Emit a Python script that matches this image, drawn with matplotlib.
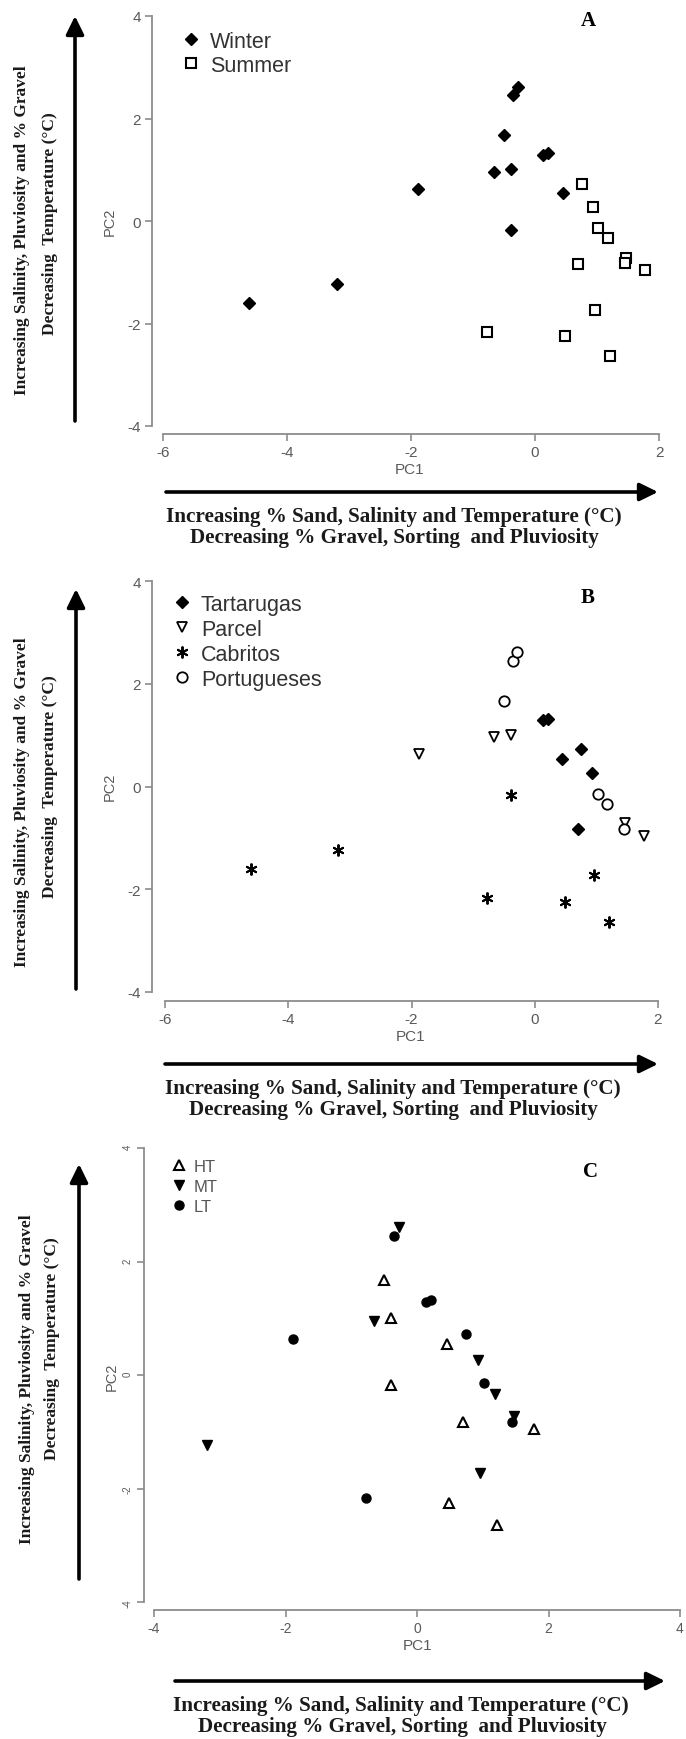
import numpy as np
import matplotlib.pyplot as plt

plt.rcParams['font.family'] = ['Liberation Sans', 'DejaVu Sans']
plt.rcParams['axes.unicode_minus'] = False

W, H = 686, 1740
DPI = 100

# PCA scores of the 24 samples
pc1 = [-4.61, -3.20, -1.88, -0.66, -0.39, -0.50, -0.35, -0.28, -0.39, 0.13, 0.21, 0.45,
       0.75, 0.93, 1.02, 1.18, 0.70, 1.47, 1.45, 1.78, 0.96, -0.77, 0.49, 1.21]
pc2 = [-1.60, -1.23, 0.63, 0.96, 1.01, 1.67, 2.45, 2.61, -0.17, 1.29, 1.32, 0.54,
       0.73, 0.27, -0.14, -0.34, -0.83, -0.72, -0.82, -0.96, -1.73, -2.17, -2.25, -2.64]
season = ['Winter'] * 12 + ['Summer'] * 12
site = ['Cabritos', 'Cabritos', 'Parcel', 'Parcel', 'Parcel', 'Portugueses',
        'Portugueses', 'Portugueses', 'Cabritos', 'Tartarugas', 'Tartarugas', 'Tartarugas',
        'Tartarugas', 'Tartarugas', 'Portugueses', 'Portugueses', 'Tartarugas', 'Parcel',
        'Portugueses', 'Parcel', 'Cabritos', 'Cabritos', 'Cabritos', 'Cabritos']
tide = ['MT', 'MT', 'LT', 'MT', 'HT', 'HT', 'LT', 'MT', 'HT', 'LT', 'LT', 'HT',
        'LT', 'MT', 'LT', 'MT', 'HT', 'MT', 'LT', 'HT', 'MT', 'LT', 'HT', 'HT']

seasons = ['Winter', 'Summer']
sites = ['Tartarugas', 'Parcel', 'Cabritos', 'Portugueses']
tides = ['HT', 'MT', 'LT']

styles = {
    'Winter': dict(marker='D', ms=5.8, mfc='black', mec='black'),
    'Summer': dict(marker='s', ms=6.8, mfc='white', mec='black', mew=1.5),
    'Tartarugas': dict(marker='D', ms=5.8, mfc='black', mec='black'),
    'Parcel': dict(marker='v', ms=7.5, mfc='white', mec='black', mew=1.3),
    'Cabritos': dict(marker=(6, 2, 0), ms=8.5, mec='black', mew=1.4),
    'Portugueses': dict(marker='o', ms=7.5, mfc='white', mec='black', mew=1.3),
    'HT': dict(marker='^', ms=7.5, mfc='white', mec='black', mew=1.5),
    'MT': dict(marker='v', ms=7.5, mfc='black', mec='black'),
    'LT': dict(marker='o', ms=6.5, mfc='black', mec='black'),
}

x = np.array(pc1)
y = np.array(pc2)

fig = plt.figure(figsize=(W / DPI, H / DPI), dpi=DPI)


def fx(px):
    return px / W


def fy(py):
    return 1 - py / H


def make_axes(x0, x1, y0, y1):
    # pixel box (top-left origin) -> figure fraction
    return fig.add_axes([fx(x0), fy(y1), (x1 - x0) / W, (y1 - y0) / H])


def style_axes(ax, xt, yt, left_out, bottom_out):
    for s in ['top', 'right']:
        ax.spines[s].set_visible(False)
    ax.spines['left'].set_position(('outward', left_out * 0.72))
    ax.spines['bottom'].set_position(('outward', bottom_out * 0.72))
    for s in ['left', 'bottom']:
        ax.spines[s].set_color('#8c8c8c')
        ax.spines[s].set_linewidth(1.3)
    ax.set_xlim(xt[0], xt[-1])
    ax.set_ylim(yt[0], yt[-1])
    ax.set_xticks(xt)
    ax.set_yticks(yt)
    ax.tick_params(color='#8c8c8c', labelcolor='#5a5a5a', length=5, width=1.2,
                   labelsize=11, pad=3)
    ax.patch.set_alpha(0)


def scatter_groups(ax, labels, groups):
    lab = np.array(labels)
    for g in groups:
        m = lab == g
        ax.plot(x[m], y[m], ls='none', label=g, **styles[g])


def add_legend(ax, left, top, fsize, spacing, color):
    leg = ax.legend(loc='upper left', bbox_to_anchor=(fx(left), fy(top)),
                    bbox_transform=fig.transFigure, frameon=False, borderpad=0,
                    borderaxespad=0, handlelength=0.8, handletextpad=0.5,
                    labelspacing=spacing, prop={'size': fsize})
    for t in leg.get_texts():
        t.set_color(color)


def labels_and_arrows(ax, pc1_xy, pc2_xy, vtext, htext, varrow, harrow, letter):
    ax.set_xlabel('PC1', fontsize=11, color='#5a5a5a')
    ax.set_ylabel('PC2', fontsize=10.5, color='#5a5a5a')
    bb = ax.get_position()
    ax.xaxis.set_label_coords((fx(pc1_xy[0]) - bb.x0) / bb.width,
                              (fy(pc1_xy[1]) - bb.y0) / bb.height)
    ax.xaxis.label.set_va('center')
    ax.yaxis.set_label_coords((fx(pc2_xy[0]) - bb.x0) / bb.width,
                              (fy(pc2_xy[1]) - bb.y0) / bb.height)
    ax.yaxis.label.set_va('center')
    (vx1, vy1), (vx2, vy2) = vtext
    fig.text(fx(vx1), fy(vy1), 'Increasing Salinity, Pluviosity and % Gravel',
             rotation=90, ha='center', va='center', family='Liberation Serif',
             weight='bold', fontsize=12.5, color='#1a1a1a')
    fig.text(fx(vx2), fy(vy2), 'Decreasing  Temperature (°C)',
             rotation=90, ha='center', va='center', family='Liberation Serif',
             weight='bold', fontsize=12.5, color='#1a1a1a')
    (hx1, hy1), (hx2, hy2) = htext
    fig.text(fx(hx1), fy(hy1), 'Increasing % Sand, Salinity and Temperature (°C)',
             ha='center', va='center', family='Liberation Serif',
             weight='bold', fontsize=15.2, color='#1a1a1a')
    fig.text(fx(hx2), fy(hy2), 'Decreasing % Gravel, Sorting  and Pluviosity',
             ha='center', va='center', family='Liberation Serif',
             weight='bold', fontsize=15.2, color='#1a1a1a')
    aprops = dict(arrowstyle='-|>,head_length=0.55,head_width=0.27', lw=2.6,
                  color='black', mutation_scale=20, shrinkA=0, shrinkB=0)
    ax_, y_bot, y_top = varrow
    fig.add_artist(plt.Annotation('', xy=(ax_, H - y_top), xytext=(ax_, H - y_bot),
                                  xycoords='figure pixels', textcoords='figure pixels',
                                  arrowprops=aprops))
    ay_, x_l, x_r = harrow
    fig.add_artist(plt.Annotation('', xy=(x_r, H - ay_), xytext=(x_l, H - ay_),
                                  xycoords='figure pixels', textcoords='figure pixels',
                                  arrowprops=aprops))
    lx, ly, ltxt = letter
    fig.text(fx(lx), fy(ly), ltxt, ha='center', va='center', family='Liberation Serif',
             weight='bold', fontsize=15, color='black')


# Panel A: season
axA = make_axes(163, 659, 17, 427)
style_axes(axA, [-6, -4, -2, 0, 2], [-4, -2, 0, 2, 4], 11, 8)
scatter_groups(axA, season, seasons)
add_legend(axA, 182, 32, 15.5, 0.13, '#333333')
labels_and_arrows(axA, (410, 470), (110, 222), ((22, 230), (50, 224)),
                  ((394, 517), (394, 538)), (75, 422, 17), (493, 166, 658),
                  (588, 21, 'A'))

# Panel B: site
axB = make_axes(165, 658, 582, 993)
style_axes(axB, [-6, -4, -2, 0, 2], [-4, -2, 0, 2, 4], 13, 9)
scatter_groups(axB, site, sites)
add_legend(axB, 173, 595, 15.5, 0.18, '#333333')
labels_and_arrows(axB, (411, 1037), (110, 787), ((22, 802), (50, 787)),
                  ((393, 1089), (393, 1110)), (76, 990, 590), (1065, 165, 658),
                  (588, 598, 'B'))

# Panel C: tidal level
axC = make_axes(154, 680, 1149, 1603)
style_axes(axC, [-4, -2, 0, 2, 4], [-4, -2, 0, 2, 4], 10, 8)
axC.tick_params(axis='y', labelsize=7, labelrotation=90)
axC.tick_params(axis='x', labelsize=10)
scatter_groups(axC, tide, tides)
add_legend(axC, 172, 1160, 12, 0.29, '#555555')
labels_and_arrows(axC, (418, 1646), (112, 1377), ((27, 1379), (52, 1349)),
                  ((401, 1706), (402, 1727)), (79, 1580, 1165), (1682, 175, 665),
                  (590, 1172, 'C'))

fig.savefig('out.png', dpi=DPI)
